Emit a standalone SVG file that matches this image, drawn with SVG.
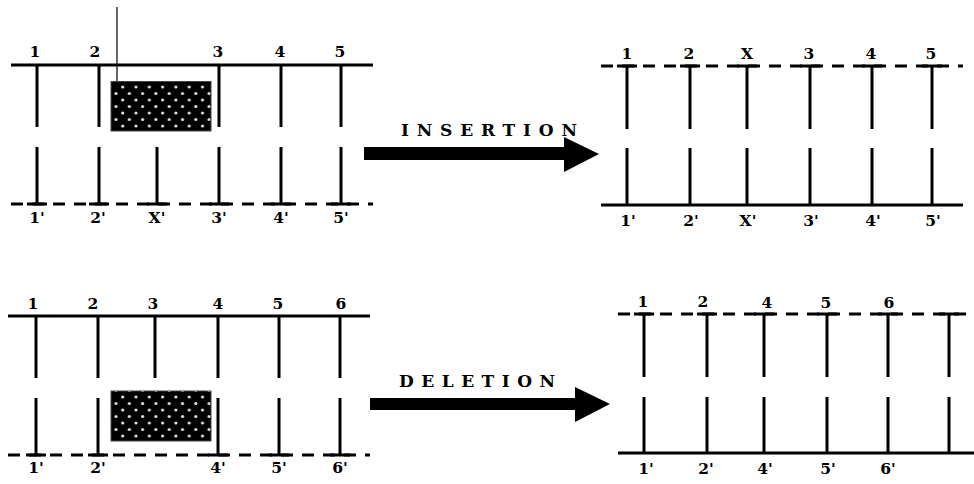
<svg xmlns="http://www.w3.org/2000/svg" width="974" height="484" viewBox="0 0 974 484">
<style>
.ln{stroke:#000;stroke-width:3;fill:none}
.dl{stroke:#000;stroke-width:3;fill:none;stroke-dasharray:12 9}
.lb{font-family:"DejaVu Serif","Liberation Serif",serif;font-weight:bold;font-size:15.5px;text-anchor:middle;fill:#000}
.ttl{font-family:"DejaVu Serif","Liberation Serif",serif;font-weight:bold;font-size:17px;fill:#000}
.bx{stroke:#444;stroke-width:1}
.dt{fill:#e4e4e4}
</style>
<defs>
<pattern id="dots1" x="112.5" y="84" width="13.3" height="13" patternUnits="userSpaceOnUse">
<rect width="13.3" height="13" fill="#000"/>
<circle class="dt" cx="3.5" cy="9.5" r="1.6"/>
<circle class="dt" cx="10.2" cy="3" r="1.6"/>
</pattern>
<pattern id="dots2" x="112.5" y="394" width="13.3" height="13" patternUnits="userSpaceOnUse">
<rect width="13.3" height="13" fill="#000"/>
<circle class="dt" cx="3.5" cy="9.5" r="1.6"/>
<circle class="dt" cx="10.2" cy="3" r="1.6"/>
</pattern>
</defs>
<rect width="974" height="484" fill="#fff"/>

<g id="insertion-before">
<line x1="117" y1="7" x2="117" y2="82" stroke="#000" stroke-width="1.2"/>
<line class="ln" x1="11" y1="65" x2="373" y2="65"/>
<line class="dl" x1="11" y1="204" x2="373" y2="204"/>
<path class="ln" d="M37 65V127M99 65V127M219 65V127M281 65V127M341 65V127"/>
<path class="ln" d="M37 147V204M99 147V204M157 147V204M219 147V204M281 147V204M341 147V204"/>
<path class="ln" d="M27 204H47M89 204H109M147 204H167M209 204H229M271 204H291M331 204H351"/>
<rect class="bx" x="111" y="81.5" width="100" height="49.5" fill="url(#dots1)"/>
<text class="lb" x="35" y="57">1</text><text class="lb" x="95" y="57">2</text><text class="lb" x="218" y="57">3</text><text class="lb" x="280" y="57">4</text><text class="lb" x="340" y="57">5</text>
<text class="lb" x="37" y="223">1'</text><text class="lb" x="98" y="223">2'</text><text class="lb" x="157" y="223">X'</text><text class="lb" x="219" y="223">3'</text><text class="lb" x="281" y="223">4'</text><text class="lb" x="341" y="223">5'</text>
</g>

<g id="insertion-after">
<line class="dl" x1="601" y1="66" x2="963" y2="66"/>
<line class="ln" x1="601" y1="205" x2="963" y2="205"/>
<path class="ln" d="M627 66V129M690 66V129M747 66V129M810 66V129M872 66V129M932 66V129"/>
<path class="ln" d="M627 148V205M690 148V205M747 148V205M810 148V205M872 148V205M932 148V205"/>
<path class="ln" d="M617 66H637M680 66H700M737 66H757M800 66H820M862 66H882M922 66H942"/>
<text class="lb" x="627" y="59">1</text><text class="lb" x="689" y="59">2</text><text class="lb" x="747" y="59">X</text><text class="lb" x="809" y="59">3</text><text class="lb" x="871" y="59">4</text><text class="lb" x="931" y="59">5</text>
<text class="lb" x="628" y="226">1'</text><text class="lb" x="691" y="226">2'</text><text class="lb" x="748" y="226">X'</text><text class="lb" x="811" y="226">3'</text><text class="lb" x="873" y="226">4'</text><text class="lb" x="933" y="226">5'</text>
</g>

<g id="deletion-before">
<line class="ln" x1="8" y1="316" x2="370" y2="316"/>
<line class="dl" x1="8" y1="455" x2="370" y2="455"/>
<path class="ln" d="M36 316V378M98 316V378M155 316V378M218 316V378M279 316V378M340 316V378"/>
<path class="ln" d="M36 398V455M98 398V455M218 398V455M279 398V455M340 398V455"/>
<path class="ln" d="M26 455H46M88 455H108M208 455H228M269 455H289M330 455H350"/>
<rect class="bx" x="111" y="391" width="100" height="50" fill="url(#dots2)"/>
<text class="lb" x="33" y="309">1</text><text class="lb" x="93" y="309">2</text><text class="lb" x="153" y="309">3</text><text class="lb" x="218" y="309">4</text><text class="lb" x="278" y="309">5</text><text class="lb" x="341" y="309">6</text>
<text class="lb" x="36" y="473">1'</text><text class="lb" x="98" y="473">2'</text><text class="lb" x="218" y="473">4'</text><text class="lb" x="279" y="473">5'</text><text class="lb" x="340" y="473">6'</text>
</g>

<g id="deletion-after">
<line class="dl" x1="618" y1="314" x2="974" y2="314"/>
<line class="ln" x1="618" y1="453" x2="974" y2="453"/>
<path class="ln" d="M644 314V377M707 314V377M764 314V377M827 314V377M888 314V377M949 314V377"/>
<path class="ln" d="M644 397V453M707 397V453M764 397V453M827 397V453M888 397V453M949 397V453"/>
<path class="ln" d="M634 314H654M697 314H717M754 314H774M817 314H837M878 314H898M939 314H959"/>
<text class="lb" x="643" y="307">1</text><text class="lb" x="703" y="307">2</text><text class="lb" x="767" y="308">4</text><text class="lb" x="826" y="308">5</text><text class="lb" x="889" y="308">6</text>
<text class="lb" x="646" y="474">1'</text><text class="lb" x="706" y="474">2'</text><text class="lb" x="765" y="474">4'</text><text class="lb" x="828" y="474">5'</text><text class="lb" x="888" y="474">6'</text>
</g>

<g id="connectors">
<g id="insertion-arrow">
<polygon points="364,147 564,147 564,137 599,154 564,172 564,160 364,160" fill="#000"/>
<text class="ttl" x="401" y="136" textLength="176" lengthAdjust="spacing">INSERTION</text>
</g>
<g id="deletion-arrow">
<polygon points="370,398 575,398 575,387 610,404 575,422 575,410 370,410" fill="#000"/>
<text class="ttl" x="399" y="387" textLength="156" lengthAdjust="spacing">DELETION</text>
</g>
</g>
</svg>
